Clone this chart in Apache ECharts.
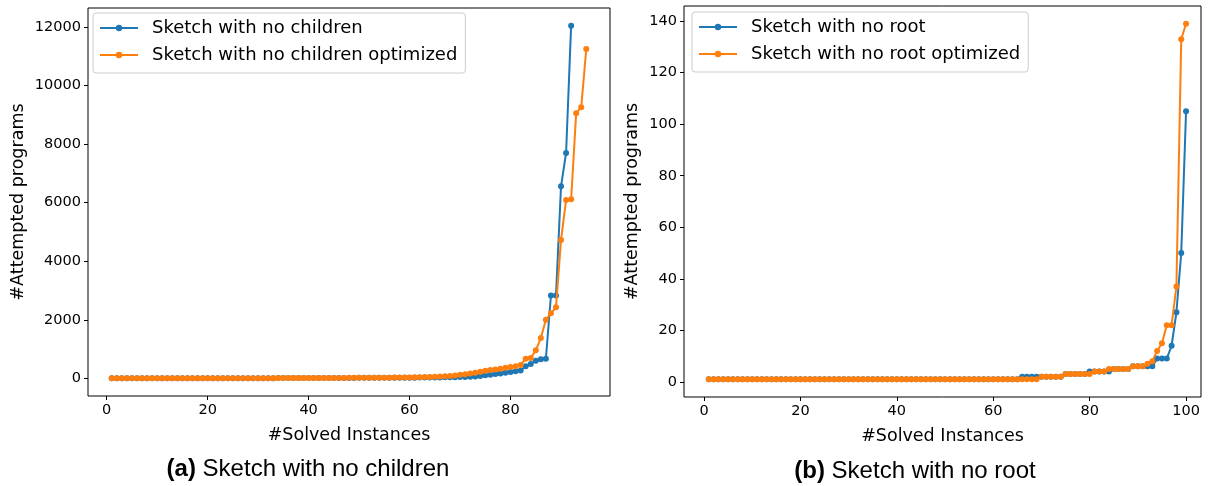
<!DOCTYPE html>
<html>
<head>
<meta charset="utf-8">
<script src="https://cdn.jsdelivr.net/npm/echarts@6/dist/echarts.min.js"></script>
<style>html,body{margin:0;padding:0;background:#fff}#c{width:1208px;height:486px}</style>
</head>
<body>
<div id="c"></div>
<script>
// ---- data ----
const leftSeriesNames = ["Sketch with no children", "Sketch with no children optimized"];
const rightSeriesNames = ["Sketch with no root", "Sketch with no root optimized"];

const noChildren = [
  1,1,1,1,1,2,2,2,2,2,
  2,3,3,3,3,3,4,4,4,4,
  5,5,5,5,6,6,6,7,7,7,
  8,8,8,9,9,10,10,11,11,12,
  12,13,13,14,14,15,15,16,16,17,
  17,18,18,19,19,20,21,22,23,24,
  25,26,27,29,31,33,35,38,41,45,
  50,58,66,84,104,122,145,170,194,217,
  240,265,410,490,600,650,673,2830,2830,6560,7700,12050
];
const noChildrenOpt = [
  1,1,1,1,1,2,2,2,2,2,
  2,3,3,3,3,3,4,4,4,4,
  5,5,5,5,6,6,6,7,7,7,
  8,8,8,9,9,10,10,11,11,12,
  12,13,13,14,15,15,16,17,18,19,
  20,21,22,23,24,25,27,29,31,33,
  36,40,45,50,56,63,72,85,100,120,
  140,165,195,230,262,285,307,330,365,387,
  410,460,673,695,957,1378,2006,2222,2427,4730,6096,6120,9060,9265,11250
];
const noRoot = [
  1,1,1,1,1,1,1,1,1,1,
  1,1,1,1,1,1,1,1,1,1,
  1,1,1,1,1,1,1,1,1,1,
  1,1,1,1,1,1,1,1,1,1,
  1,1,1,1,1,1,1,1,1,1,
  1,1,1,1,1,1,1,1,1,1,
  1,1,1,1,1,2,2,2,2,2,
  2,2,2,2,3,3,3,3,3,4,
  4,4,4,4,5,5,5,5,6,6,
  6,6,6,9,9,9,14,27,50,105
];
const noRootOpt = [
  1,1,1,1,1,1,1,1,1,1,
  1,1,1,1,1,1,1,1,1,1,
  1,1,1,1,1,1,1,1,1,1,
  1,1,1,1,1,1,1,1,1,1,
  1,1,1,1,1,1,1,1,1,1,
  1,1,1,1,1,1,1,1,1,1,
  1,1,1,1,1,1,1,1,1,2,
  2,2,2,2,3,3,3,3,3,3,
  4,4,4,5,5,5,5,5,6,6,
  6,7,8,12,15,22,22,37,133,139
];
const leftXTicks = [0, 20, 40, 60, 80];
const leftYTicks = [0, 2000, 4000, 6000, 8000, 10000, 12000];
const rightXTicks = [0, 20, 40, 60, 80, 100];
const rightYTicks = [0, 20, 40, 60, 80, 100, 120, 140];
const xTitle = "#Solved Instances";
const yTitle = "#Attempted programs";
const captionA = ["(a)", " Sketch with no children"];
const captionB = ["(b)", " Sketch with no root"];

// ---- chart ----
const BLUE = '#1f77b4', ORANGE = '#ff7f0e';
const tickFont = {fontFamily: 'DejaVu Sans', fontSize: 14.5, color: '#000'};
const pairs = arr => arr.map((v, i) => [i + 1, v]);
const plain = v => String(v);

function xAxis(gridIndex, min, max, ticks) {
  return {
    type: 'value', gridIndex, min, max,
    name: xTitle, nameLocation: 'middle', nameGap: 30,
    nameTextStyle: {fontFamily: 'DejaVu Sans', fontSize: 17.5, color: '#000'},
    axisLine: {show: false, onZero: false},
    axisTick: {show: true, inside: false, length: 4, lineStyle: {color: '#000'}, customValues: ticks},
    axisLabel: Object.assign({margin: 7, customValues: ticks, formatter: plain}, tickFont),
    splitLine: {show: false}
  };
}
function yAxis(gridIndex, min, max, ticks, nameGap) {
  return {
    type: 'value', gridIndex, min, max,
    name: yTitle, nameLocation: 'middle', nameRotate: 90, nameGap,
    nameTextStyle: {fontFamily: 'DejaVu Sans', fontSize: 17.5, color: '#000'},
    axisLine: {show: false, onZero: false},
    axisTick: {show: true, inside: false, length: 4, lineStyle: {color: '#000'}, customValues: ticks},
    axisLabel: Object.assign({margin: 7, customValues: ticks, formatter: plain}, tickFont),
    splitLine: {show: false}
  };
}
function series(name, data, color, idx, z) {
  return {
    name, type: 'line', data: pairs(data), xAxisIndex: idx, yAxisIndex: idx,
    symbol: 'circle', symbolSize: 6, showSymbol: true,
    lineStyle: {width: 2, color}, itemStyle: {color}, z,
    emphasis: {disabled: true}
  };
}
function legend(left, top, names) {
  return {
    left, top, orient: 'vertical', data: names,
    itemWidth: 38, itemHeight: 8, itemGap: 9,
    textStyle: {fontFamily: 'DejaVu Sans', fontSize: 18, color: '#000', padding: [0, 0, 0, 9]},
    borderColor: '#cccccc', borderWidth: 1, borderRadius: 3,
    padding: [6, 8, 9, 6], backgroundColor: 'rgba(255,255,255,0.8)'
  };
}
function caption(parts, left, top) {
  return {
    text: '{b|' + parts[0] + '}{n|' + parts[1] + '}',
    left, top, textAlign: 'center',
    textStyle: {fontWeight: 'normal', rich: {
      b: {fontFamily: 'Liberation Sans', fontSize: 24, fontWeight: 'bold', color: '#000'},
      n: {fontFamily: 'Liberation Sans', fontSize: 24, fontWeight: 'normal', color: '#000'}
    }}
  };
}

const chart = echarts.init(document.getElementById('c'), null, {renderer: 'canvas'});
chart.setOption({
  animation: false,
  backgroundColor: '#fff',
  title: [caption(captionA, 303, 452), caption(captionB, 910, 454)],
  grid: [
    {left: 88, top: 8, width: 522, height: 388, show: true, borderColor: '#000', borderWidth: 1, backgroundColor: 'transparent'},
    {left: 684, top: 6, width: 517, height: 391, show: true, borderColor: '#000', borderWidth: 1, backgroundColor: 'transparent'}
  ],
  xAxis: [xAxis(0, -3.7, 99.7, leftXTicks), xAxis(1, -4.15, 103.1, rightXTicks)],
  yAxis: [yAxis(0, -602.5, 12652.5, leftYTicks, 61), yAxis(1, -5.9, 145.9, rightYTicks, 43)],
  legend: [legend(93, 13, leftSeriesNames), legend(692, 12, rightSeriesNames)],
  series: [
    series(leftSeriesNames[0], noChildren, BLUE, 0, 2),
    series(leftSeriesNames[1], noChildrenOpt, ORANGE, 0, 3),
    series(rightSeriesNames[0], noRoot, BLUE, 1, 2),
    series(rightSeriesNames[1], noRootOpt, ORANGE, 1, 3)
  ]
});
</script>
</body>
</html>
